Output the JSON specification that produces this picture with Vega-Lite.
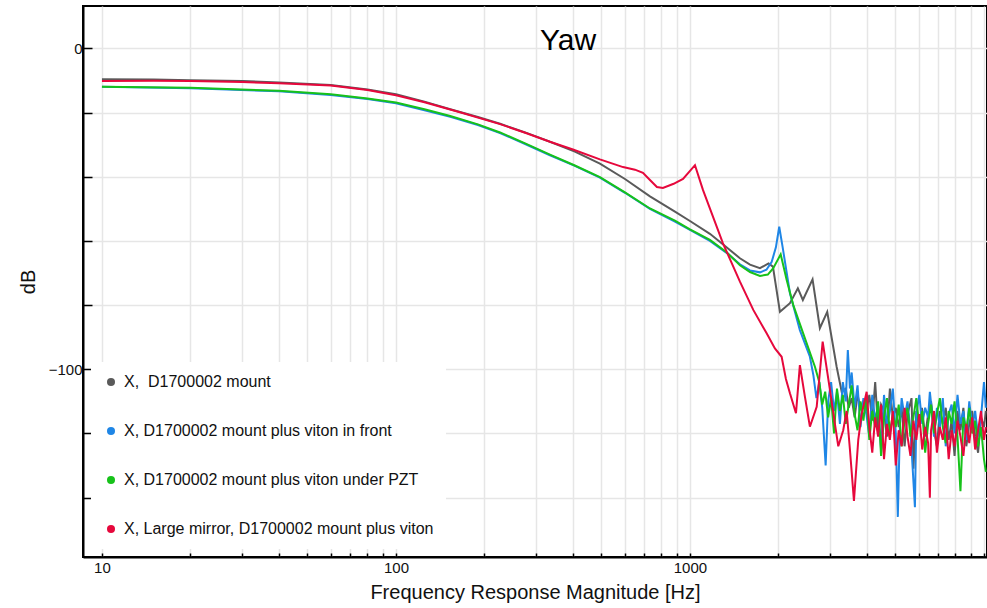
{
  "$schema": "https://vega.github.io/schema/vega-lite/v6.json",
  "autosize": {"type": "none"},
  "padding": {"left": 83, "top": 6, "right": 0, "bottom": 51},
  "width": 904,
  "height": 551,
  "background": "white",
  "title": {"text": "Yaw", "fontSize": 30, "fontWeight": "normal", "font": "Liberation Sans", "anchor": "middle", "dx": 33, "dy": 30, "offset": -44, "baseline": "alphabetic", "color": "black"},
  "datasets": {
    "labels": [
      {"k": "A", "name": "X,\u00a0 D1700002 mount"},
      {"k": "B", "name": "X, D1700002 mount plus viton in front"},
      {"k": "C", "name": "X, D1700002 mount plus viton under PZT"},
      {"k": "D", "name": "X, Large mirror, D1700002 mount plus viton"}
    ],
    "curves": [
      {"k": "A", "f": 10, "db": -9.6}, {"k": "A", "f": 15, "db": -9.7}, {"k": "A", "f": 20, "db": -9.9}, {"k": "A", "f": 30, "db": -10.2}, {"k": "A", "f": 40, "db": -10.6}, {"k": "A", "f": 60, "db": -11.4}, {"k": "A", "f": 80, "db": -12.8}, {"k": "A", "f": 100, "db": -14.3}, {"k": "A", "f": 125, "db": -16.6}, {"k": "A", "f": 153, "db": -19.0}, {"k": "A", "f": 190, "db": -21.4}, {"k": "A", "f": 226, "db": -23.5}, {"k": "A", "f": 275, "db": -26.2}, {"k": "A", "f": 334, "db": -29.1}, {"k": "A", "f": 406, "db": -32.2}, {"k": "A", "f": 494, "db": -35.9}, {"k": "A", "f": 601, "db": -40.7}, {"k": "A", "f": 731, "db": -46.1}, {"k": "A", "f": 889, "db": -50.9}, {"k": "A", "f": 1000, "db": -53.8}, {"k": "A", "f": 1169, "db": -57.8}, {"k": "A", "f": 1300, "db": -61.2}, {"k": "A", "f": 1479, "db": -65.4}, {"k": "A", "f": 1600, "db": -67.4}, {"k": "A", "f": 1730, "db": -68.5}, {"k": "A", "f": 1850, "db": -67.0}, {"k": "A", "f": 1915, "db": -68.0}, {"k": "A", "f": 2023, "db": -82.1}, {"k": "A", "f": 2188, "db": -79.4}, {"k": "A", "f": 2328, "db": -74.8}, {"k": "A", "f": 2421, "db": -78.4}, {"k": "A", "f": 2612, "db": -72.0}, {"k": "A", "f": 2766, "db": -87.2}, {"k": "A", "f": 2930, "db": -82.1}, {"k": "A", "f": 3154, "db": -99.2}, {"k": "A", "f": 3281, "db": -107}, {"k": "A", "f": 3388, "db": -106}, {"k": "A", "f": 3467, "db": -112}, {"k": "A", "f": 3548, "db": -109}, {"k": "A", "f": 3631, "db": -115}, {"k": "A", "f": 3715, "db": -108}, {"k": "A", "f": 3802, "db": -112}, {"k": "A", "f": 3890, "db": -110}, {"k": "A", "f": 3981, "db": -113}, {"k": "A", "f": 4074, "db": -108}, {"k": "A", "f": 4169, "db": -116}, {"k": "A", "f": 4266, "db": -104}, {"k": "A", "f": 4365, "db": -119}, {"k": "A", "f": 4467, "db": -111}, {"k": "A", "f": 4571, "db": -113}, {"k": "A", "f": 4677, "db": -121}, {"k": "A", "f": 4786, "db": -106}, {"k": "A", "f": 4898, "db": -115}, {"k": "A", "f": 5012, "db": -112}, {"k": "A", "f": 5129, "db": -118}, {"k": "A", "f": 5248, "db": -112}, {"k": "A", "f": 5370, "db": -124}, {"k": "A", "f": 5495, "db": -114}, {"k": "A", "f": 5670, "db": -109}, {"k": "A", "f": 5754, "db": -131}, {"k": "A", "f": 5888, "db": -113}, {"k": "A", "f": 6026, "db": -118}, {"k": "A", "f": 6152, "db": -112}, {"k": "A", "f": 6310, "db": -121}, {"k": "A", "f": 6457, "db": -114}, {"k": "A", "f": 6607, "db": -110}, {"k": "A", "f": 6761, "db": -119}, {"k": "A", "f": 6918, "db": -124}, {"k": "A", "f": 7079, "db": -113}, {"k": "A", "f": 7244, "db": -117}, {"k": "A", "f": 7413, "db": -112}, {"k": "A", "f": 7586, "db": -122}, {"k": "A", "f": 7762, "db": -116}, {"k": "A", "f": 7943, "db": -127}, {"k": "A", "f": 8128, "db": -113}, {"k": "A", "f": 8318, "db": -119}, {"k": "A", "f": 8511, "db": -112}, {"k": "A", "f": 8710, "db": -124}, {"k": "A", "f": 8913, "db": -117}, {"k": "A", "f": 9120, "db": -113}, {"k": "A", "f": 9333, "db": -121}, {"k": "A", "f": 9550, "db": -126}, {"k": "A", "f": 9772, "db": -115}, {"k": "A", "f": 10000, "db": -118}, {"k": "A", "f": 10150, "db": -113},
      {"k": "B", "f": 10, "db": -12.0}, {"k": "B", "f": 20, "db": -12.4}, {"k": "B", "f": 40, "db": -13.4}, {"k": "B", "f": 60, "db": -14.5}, {"k": "B", "f": 80, "db": -15.8}, {"k": "B", "f": 100, "db": -17.1}, {"k": "B", "f": 125, "db": -19.3}, {"k": "B", "f": 153, "db": -21.3}, {"k": "B", "f": 190, "db": -23.9}, {"k": "B", "f": 226, "db": -26.4}, {"k": "B", "f": 275, "db": -29.8}, {"k": "B", "f": 334, "db": -33.3}, {"k": "B", "f": 406, "db": -36.6}, {"k": "B", "f": 494, "db": -40.3}, {"k": "B", "f": 601, "db": -45.0}, {"k": "B", "f": 731, "db": -50.0}, {"k": "B", "f": 889, "db": -54.0}, {"k": "B", "f": 1000, "db": -56.6}, {"k": "B", "f": 1169, "db": -60.0}, {"k": "B", "f": 1336, "db": -63.8}, {"k": "B", "f": 1479, "db": -67.3}, {"k": "B", "f": 1600, "db": -69.2}, {"k": "B", "f": 1730, "db": -69.8}, {"k": "B", "f": 1820, "db": -69.0}, {"k": "B", "f": 1897, "db": -66.5}, {"k": "B", "f": 1960, "db": -62.0}, {"k": "B", "f": 2012, "db": -55.6}, {"k": "B", "f": 2065, "db": -61.8}, {"k": "B", "f": 2188, "db": -76.3}, {"k": "B", "f": 2365, "db": -87.8}, {"k": "B", "f": 2558, "db": -96.1}, {"k": "B", "f": 2630, "db": -102}, {"k": "B", "f": 2692, "db": -109}, {"k": "B", "f": 2754, "db": -104}, {"k": "B", "f": 2818, "db": -112}, {"k": "B", "f": 2894, "db": -130}, {"k": "B", "f": 2951, "db": -110}, {"k": "B", "f": 3020, "db": -104}, {"k": "B", "f": 3090, "db": -113}, {"k": "B", "f": 3162, "db": -107}, {"k": "B", "f": 3236, "db": -117}, {"k": "B", "f": 3311, "db": -104}, {"k": "B", "f": 3388, "db": -110}, {"k": "B", "f": 3443, "db": -94}, {"k": "B", "f": 3500, "db": -106}, {"k": "B", "f": 3548, "db": -101}, {"k": "B", "f": 3631, "db": -112}, {"k": "B", "f": 3715, "db": -105}, {"k": "B", "f": 3802, "db": -118}, {"k": "B", "f": 3890, "db": -109}, {"k": "B", "f": 3981, "db": -114}, {"k": "B", "f": 4074, "db": -121}, {"k": "B", "f": 4169, "db": -108}, {"k": "B", "f": 4266, "db": -116}, {"k": "B", "f": 4365, "db": -111}, {"k": "B", "f": 4467, "db": -125}, {"k": "B", "f": 4571, "db": -108}, {"k": "B", "f": 4677, "db": -118}, {"k": "B", "f": 4786, "db": -113}, {"k": "B", "f": 4898, "db": -106}, {"k": "B", "f": 5012, "db": -120}, {"k": "B", "f": 5093, "db": -146}, {"k": "B", "f": 5180, "db": -117}, {"k": "B", "f": 5248, "db": -109}, {"k": "B", "f": 5370, "db": -115}, {"k": "B", "f": 5495, "db": -110}, {"k": "B", "f": 5623, "db": -119}, {"k": "B", "f": 5823, "db": -143}, {"k": "B", "f": 5888, "db": -114}, {"k": "B", "f": 6026, "db": -108}, {"k": "B", "f": 6166, "db": -117}, {"k": "B", "f": 6310, "db": -112}, {"k": "B", "f": 6457, "db": -115}, {"k": "B", "f": 6546, "db": -107}, {"k": "B", "f": 6650, "db": -113}, {"k": "B", "f": 6761, "db": -121}, {"k": "B", "f": 6918, "db": -112}, {"k": "B", "f": 7079, "db": -118}, {"k": "B", "f": 7244, "db": -109}, {"k": "B", "f": 7413, "db": -124}, {"k": "B", "f": 7586, "db": -114}, {"k": "B", "f": 7762, "db": -111}, {"k": "B", "f": 7943, "db": -120}, {"k": "B", "f": 8128, "db": -108}, {"k": "B", "f": 8318, "db": -117}, {"k": "B", "f": 8511, "db": -113}, {"k": "B", "f": 8710, "db": -122}, {"k": "B", "f": 8913, "db": -110}, {"k": "B", "f": 9120, "db": -118}, {"k": "B", "f": 9333, "db": -113}, {"k": "B", "f": 9550, "db": -121}, {"k": "B", "f": 9772, "db": -115}, {"k": "B", "f": 10000, "db": -104}, {"k": "B", "f": 10150, "db": -112},
      {"k": "C", "f": 10, "db": -12.0}, {"k": "C", "f": 20, "db": -12.3}, {"k": "C", "f": 40, "db": -13.2}, {"k": "C", "f": 60, "db": -14.3}, {"k": "C", "f": 80, "db": -15.6}, {"k": "C", "f": 100, "db": -16.9}, {"k": "C", "f": 125, "db": -19.0}, {"k": "C", "f": 153, "db": -21.1}, {"k": "C", "f": 190, "db": -23.7}, {"k": "C", "f": 226, "db": -26.2}, {"k": "C", "f": 275, "db": -29.6}, {"k": "C", "f": 334, "db": -33.1}, {"k": "C", "f": 406, "db": -36.5}, {"k": "C", "f": 494, "db": -40.1}, {"k": "C", "f": 601, "db": -44.9}, {"k": "C", "f": 731, "db": -49.9}, {"k": "C", "f": 889, "db": -53.7}, {"k": "C", "f": 1000, "db": -56.4}, {"k": "C", "f": 1169, "db": -59.7}, {"k": "C", "f": 1336, "db": -63.6}, {"k": "C", "f": 1479, "db": -67.6}, {"k": "C", "f": 1600, "db": -69.7}, {"k": "C", "f": 1730, "db": -70.9}, {"k": "C", "f": 1840, "db": -70.5}, {"k": "C", "f": 1920, "db": -68.5}, {"k": "C", "f": 2035, "db": -64.2}, {"k": "C", "f": 2133, "db": -72.2}, {"k": "C", "f": 2246, "db": -80.0}, {"k": "C", "f": 2427, "db": -88.8}, {"k": "C", "f": 2661, "db": -99.2}, {"k": "C", "f": 2754, "db": -104}, {"k": "C", "f": 2818, "db": -111}, {"k": "C", "f": 2884, "db": -107}, {"k": "C", "f": 2951, "db": -115}, {"k": "C", "f": 3020, "db": -109}, {"k": "C", "f": 3090, "db": -120}, {"k": "C", "f": 3162, "db": -106}, {"k": "C", "f": 3236, "db": -113}, {"k": "C", "f": 3311, "db": -108}, {"k": "C", "f": 3388, "db": -117}, {"k": "C", "f": 3467, "db": -111}, {"k": "C", "f": 3548, "db": -105}, {"k": "C", "f": 3631, "db": -114}, {"k": "C", "f": 3715, "db": -119}, {"k": "C", "f": 3802, "db": -110}, {"k": "C", "f": 3890, "db": -116}, {"k": "C", "f": 3981, "db": -108}, {"k": "C", "f": 4074, "db": -122}, {"k": "C", "f": 4169, "db": -113}, {"k": "C", "f": 4266, "db": -118}, {"k": "C", "f": 4365, "db": -110}, {"k": "C", "f": 4467, "db": -127}, {"k": "C", "f": 4571, "db": -115}, {"k": "C", "f": 4677, "db": -109}, {"k": "C", "f": 4786, "db": -120}, {"k": "C", "f": 4898, "db": -114}, {"k": "C", "f": 5012, "db": -118}, {"k": "C", "f": 5129, "db": -111}, {"k": "C", "f": 5248, "db": -124}, {"k": "C", "f": 5370, "db": -116}, {"k": "C", "f": 5495, "db": -112}, {"k": "C", "f": 5623, "db": -121}, {"k": "C", "f": 5754, "db": -115}, {"k": "C", "f": 5888, "db": -109}, {"k": "C", "f": 6026, "db": -118}, {"k": "C", "f": 6166, "db": -113}, {"k": "C", "f": 6310, "db": -126}, {"k": "C", "f": 6457, "db": -117}, {"k": "C", "f": 6607, "db": -111}, {"k": "C", "f": 6761, "db": -120}, {"k": "C", "f": 6918, "db": -114}, {"k": "C", "f": 7079, "db": -109}, {"k": "C", "f": 7244, "db": -118}, {"k": "C", "f": 7413, "db": -123}, {"k": "C", "f": 7586, "db": -113}, {"k": "C", "f": 7762, "db": -117}, {"k": "C", "f": 7943, "db": -110}, {"k": "C", "f": 8128, "db": -121}, {"k": "C", "f": 8318, "db": -138}, {"k": "C", "f": 8511, "db": -115}, {"k": "C", "f": 8710, "db": -119}, {"k": "C", "f": 8913, "db": -112}, {"k": "C", "f": 9120, "db": -120}, {"k": "C", "f": 9333, "db": -116}, {"k": "C", "f": 9550, "db": -124}, {"k": "C", "f": 9772, "db": -118}, {"k": "C", "f": 10000, "db": -128}, {"k": "C", "f": 10150, "db": -132},
      {"k": "D", "f": 10, "db": -10.2}, {"k": "D", "f": 15, "db": -10.1}, {"k": "D", "f": 20, "db": -10.2}, {"k": "D", "f": 30, "db": -10.5}, {"k": "D", "f": 40, "db": -10.9}, {"k": "D", "f": 60, "db": -11.6}, {"k": "D", "f": 80, "db": -13.0}, {"k": "D", "f": 100, "db": -14.6}, {"k": "D", "f": 125, "db": -16.8}, {"k": "D", "f": 165, "db": -19.9}, {"k": "D", "f": 226, "db": -23.6}, {"k": "D", "f": 275, "db": -26.3}, {"k": "D", "f": 334, "db": -29.1}, {"k": "D", "f": 400, "db": -31.5}, {"k": "D", "f": 494, "db": -34.6}, {"k": "D", "f": 592, "db": -37.0}, {"k": "D", "f": 650, "db": -37.8}, {"k": "D", "f": 692, "db": -38.8}, {"k": "D", "f": 731, "db": -41.0}, {"k": "D", "f": 772, "db": -43.2}, {"k": "D", "f": 809, "db": -43.5}, {"k": "D", "f": 880, "db": -42.2}, {"k": "D", "f": 947, "db": -40.7}, {"k": "D", "f": 1040, "db": -36.4}, {"k": "D", "f": 1107, "db": -44.1}, {"k": "D", "f": 1294, "db": -60.7}, {"k": "D", "f": 1479, "db": -72.7}, {"k": "D", "f": 1642, "db": -81.5}, {"k": "D", "f": 1823, "db": -88.8}, {"k": "D", "f": 1945, "db": -93.5}, {"k": "D", "f": 2050, "db": -96.1}, {"k": "D", "f": 2120, "db": -103}, {"k": "D", "f": 2188, "db": -107.5}, {"k": "D", "f": 2294, "db": -113.7}, {"k": "D", "f": 2365, "db": -98.7}, {"k": "D", "f": 2460, "db": -108.5}, {"k": "D", "f": 2558, "db": -117.9}, {"k": "D", "f": 2698, "db": -111.7}, {"k": "D", "f": 2827, "db": -91.4}, {"k": "D", "f": 2993, "db": -106.4}, {"k": "D", "f": 3100, "db": -116}, {"k": "D", "f": 3195, "db": -124}, {"k": "D", "f": 3321, "db": -119}, {"k": "D", "f": 3411, "db": -113}, {"k": "D", "f": 3500, "db": -125}, {"k": "D", "f": 3612, "db": -141}, {"k": "D", "f": 3736, "db": -122}, {"k": "D", "f": 3837, "db": -114}, {"k": "D", "f": 3990, "db": -107}, {"k": "D", "f": 4074, "db": -118}, {"k": "D", "f": 4169, "db": -126}, {"k": "D", "f": 4266, "db": -115}, {"k": "D", "f": 4365, "db": -121}, {"k": "D", "f": 4467, "db": -111}, {"k": "D", "f": 4571, "db": -128}, {"k": "D", "f": 4677, "db": -117}, {"k": "D", "f": 4786, "db": -122}, {"k": "D", "f": 4898, "db": -113}, {"k": "D", "f": 5012, "db": -130}, {"k": "D", "f": 5129, "db": -119}, {"k": "D", "f": 5248, "db": -124}, {"k": "D", "f": 5370, "db": -112}, {"k": "D", "f": 5495, "db": -121}, {"k": "D", "f": 5623, "db": -127}, {"k": "D", "f": 5754, "db": -116}, {"k": "D", "f": 5888, "db": -122}, {"k": "D", "f": 6026, "db": -114}, {"k": "D", "f": 6166, "db": -125}, {"k": "D", "f": 6310, "db": -118}, {"k": "D", "f": 6457, "db": -123}, {"k": "D", "f": 6546, "db": -140}, {"k": "D", "f": 6607, "db": -119}, {"k": "D", "f": 6761, "db": -113}, {"k": "D", "f": 6918, "db": -126}, {"k": "D", "f": 7079, "db": -118}, {"k": "D", "f": 7244, "db": -122}, {"k": "D", "f": 7413, "db": -115}, {"k": "D", "f": 7586, "db": -128}, {"k": "D", "f": 7762, "db": -119}, {"k": "D", "f": 7943, "db": -124}, {"k": "D", "f": 8128, "db": -116}, {"k": "D", "f": 8318, "db": -121}, {"k": "D", "f": 8511, "db": -127}, {"k": "D", "f": 8710, "db": -117}, {"k": "D", "f": 8913, "db": -123}, {"k": "D", "f": 9120, "db": -115}, {"k": "D", "f": 9333, "db": -125}, {"k": "D", "f": 9550, "db": -119}, {"k": "D", "f": 9772, "db": -113}, {"k": "D", "f": 10000, "db": -122}, {"k": "D", "f": 10150, "db": -118}
    ]
  },
  "data": {"name": "curves"},
  "transform": [
    {"lookup": "k", "from": {"data": {"name": "labels"}, "key": "k", "fields": ["name"]}}
  ],
  "mark": {"type": "line", "strokeWidth": 2, "clip": true},
  "encoding": {
    "x": {
      "field": "f", "type": "quantitative",
      "scale": {"type": "log", "domain": [8.62, 10240], "nice": false},
      "axis": {
        "title": "Frequency Response Magnitude [Hz]",
        "values": [10, 20, 30, 40, 50, 60, 70, 80, 90, 100, 200, 300, 400, 500, 600, 700, 800, 900, 1000, 2000, 3000, 4000, 5000, 6000, 7000, 8000, 9000, 10000],
        "format": "d",
        "labelExpr": "(datum.value == 10 || datum.value == 100 || datum.value == 1000) ? datum.label : ''",
        "tickSize": -4,
        "labelPadding": 7,
        "titlePadding": 7
      }
    },
    "y": {
      "field": "db", "type": "quantitative",
      "scale": {"domain": [-158.5, 13.2], "nice": false, "zero": false},
      "axis": {
        "title": "dB",
        "values": [-140, -120, -100, -80, -60, -40, -20, 0],
        "format": "d",
        "labelExpr": "datum.value % 100 == 0 ? datum.label : ''",
        "tickSize": -9,
        "labelPadding": 10,
        "titlePadding": 10
      }
    },
    "color": {
      "field": "name", "type": "nominal",
      "sort": ["X,\u00a0 D1700002 mount", "X, D1700002 mount plus viton in front", "X, D1700002 mount plus viton under PZT", "X, Large mirror, D1700002 mount plus viton"],
      "scale": {
        "domain": ["X,\u00a0 D1700002 mount", "X, D1700002 mount plus viton in front", "X, D1700002 mount plus viton under PZT", "X, Large mirror, D1700002 mount plus viton"],
        "range": ["#5a5a5a", "#1f86e6", "#17c21a", "#e6083c"]
      },
      "legend": {
        "title": null,
        "orient": "bottom-left",
        "offset": 8,
        "fillColor": "white",
        "padding": 12,
        "rowPadding": 33,
        "labelFontSize": 16,
        "labelColor": "#111111",
        "labelOffset": 5,
        "labelLimit": 500,
        "symbolType": "circle",
        "symbolSize": 64,
        "encode": {"symbols": {"update": {"fill": {"scale": "color", "field": "value"}, "strokeWidth": {"value": 0}}}}
      }
    }
  },
  "config": {
    "font": "Liberation Sans",
    "view": {"stroke": "black", "strokeWidth": 2},
    "axis": {
      "gridColor": "#e6e6e6", "gridWidth": 1.5,
      "domainColor": "black", "domainWidth": 2,
      "tickColor": "black", "tickWidth": 1.5,
      "labelColor": "#111111", "labelFontSize": 15, "labelFont": "Liberation Sans",
      "titleColor": "#111111", "titleFontSize": 20, "titleFontWeight": "normal", "titleFont": "Liberation Sans"
    }
  }
}
